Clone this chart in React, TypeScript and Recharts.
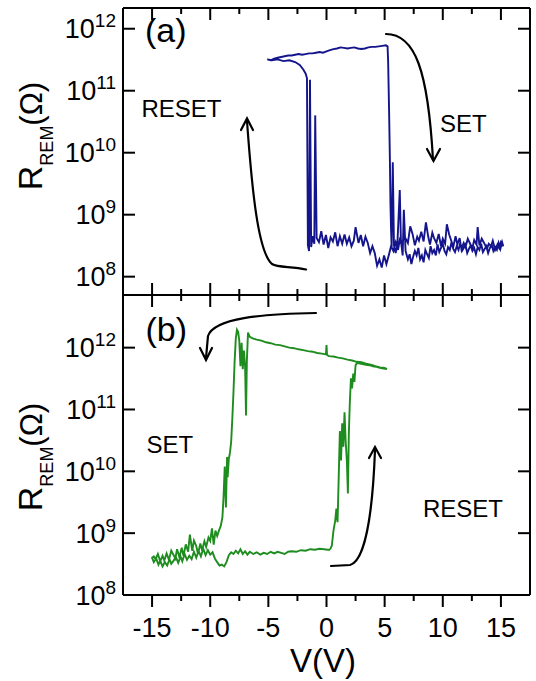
import { LineChart, Line, XAxis, YAxis } from "recharts";

const FONT = "'Liberation Sans', Arial, Helvetica, sans-serif";

// panel (a) sweep, [V, R] in sweep order
const A_HIGH: [number, number][] = [
  [-5.1, 3.2e11], [-4.8, 3.1e11], [-4.5, 3.3e11], [-4.2, 3.4e11], [-3.9, 3.5e11],
  [-3.6, 3.6e11], [-3.3, 3.7e11], [-3.0, 3.7e11], [-2.7, 3.8e11], [-2.4, 3.9e11],
  [-2.1, 3.8e11], [-1.8, 3.9e11], [-1.5, 4.0e11], [-1.2, 4.0e11], [-0.9, 4.1e11],
  [-0.6, 4.2e11], [-0.3, 4.1e11], [0, 4.3e11], [0.3, 4.5e11], [0.6, 4.7e11],
  [0.9, 4.8e11], [1.2, 5.0e11], [1.5, 4.9e11], [1.8, 4.8e11], [2.1, 4.9e11],
  [2.4, 5.0e11], [2.7, 4.8e11], [3.0, 4.7e11], [3.3, 4.8e11], [3.6, 5.0e11],
  [3.9, 5.1e11], [4.2, 5.1e11], [4.5, 5.2e11], [4.8, 5.3e11], [5.1, 5.4e11],
  [5.25, 5.2e11],
];

const A_SET: [number, number][] = [
  [5.3, 3e11], [5.38, 5e10], [5.45, 8e9], [5.5, 1.5e9], [5.55, 6e8], [5.6, 3e8],
  [5.7, 7e9], [5.8, 3.2e8], [5.95, 2.4e8], [6.1, 3.5e8], [6.3, 2.5e9], [6.4, 3.8e8],
  [6.55, 2.2e8], [6.65, 1.2e9], [6.8, 2.6e8], [7.0, 1.9e8], [7.15, 2.3e8], [7.3, 1.6e8],
  [7.45, 2.1e8], [7.6, 2.6e8], [7.75, 2.2e8], [7.9, 2.9e8], [8.05, 1.9e8], [8.2, 2.2e8],
  [8.35, 1.7e8], [8.5, 2.7e8], [8.65, 2.3e8], [8.8, 2.0e8], [8.95, 3.1e8], [9.1, 2.4e8],
  [9.25, 2.7e8], [9.4, 2.2e8], [9.55, 3.3e8], [9.7, 2.5e8], [9.85, 2.9e8], [10.0, 3.4e8],
  [10.15, 2.6e8], [10.3, 2.3e8], [10.45, 3.0e8], [10.6, 2.7e8], [10.75, 3.6e8], [10.9, 2.8e8],
  [11.05, 2.5e8], [11.2, 3.1e8], [11.35, 2.7e8], [11.5, 3.5e8], [11.65, 2.6e8], [11.8, 2.9e8],
  [11.95, 3.3e8], [12.1, 2.4e8], [12.25, 2.8e8], [12.4, 3.2e8], [12.55, 2.6e8], [12.7, 2.9e8],
  [12.85, 2.3e8], [13.0, 3.0e8], [13.15, 2.7e8], [13.3, 3.4e8], [13.45, 2.5e8], [13.6, 2.8e8],
  [13.75, 3.1e8], [13.9, 2.4e8], [14.05, 2.9e8], [14.2, 3.3e8], [14.35, 2.6e8], [14.5, 3.0e8],
  [14.65, 2.7e8], [14.8, 3.5e8], [14.95, 2.8e8], [15.1, 3.6e8], [15.2, 3.1e8],
];

const A_LOW: [number, number][] = [
  [15.0, 3.6e8], [14.85, 2.9e8], [14.7, 3.3e8], [14.5, 2.7e8], [14.3, 3.8e8], [14.15, 3.1e8],
  [13.95, 3.4e8], [13.8, 2.8e8], [13.55, 3.5e8], [13.35, 4.1e8], [13.15, 3.2e8], [13.0, 6.3e8],
  [12.9, 3.3e8], [12.7, 3.9e8], [12.55, 2.9e8], [12.35, 3.4e8], [12.15, 4.1e8], [11.95, 3.0e8],
  [11.8, 3.5e8], [11.6, 2.8e8], [11.45, 4.2e8], [11.25, 3.3e8], [11.1, 4.5e8], [10.9, 3.0e8],
  [10.75, 3.7e8], [10.55, 4.8e8], [10.35, 7.0e8], [10.2, 3.4e8], [10.0, 4.1e8], [9.85, 3.1e8],
  [9.65, 4.9e8], [9.45, 3.5e8], [9.25, 4.2e8], [9.1, 5.1e8], [8.9, 3.3e8], [8.75, 4.4e8],
  [8.55, 7.5e8], [8.35, 3.7e8], [8.15, 5.3e8], [7.95, 3.8e8], [7.8, 4.4e8], [7.6, 3.2e8],
  [7.4, 4.9e8], [7.2, 6.5e8], [7.0, 3.5e8], [6.85, 4.0e8], [6.65, 4.6e8], [6.5, 3.1e8],
  [6.3, 3.9e8], [6.15, 2.7e8], [5.95, 3.6e8], [5.75, 2.6e8], [5.55, 3.1e8], [5.35, 2.2e8],
  [5.15, 1.6e8], [4.95, 2.2e8], [4.75, 1.4e8], [4.55, 1.9e8], [4.35, 1.5e8], [4.15, 2.4e8],
  [3.95, 3.1e8], [3.75, 2.4e8], [3.55, 3.5e8], [3.35, 4.4e8], [3.15, 3.1e8], [2.95, 4.7e8],
  [2.75, 3.5e8], [2.5, 6.3e8], [2.35, 3.8e8], [2.15, 3.1e8], [1.95, 4.3e8], [1.75, 3.4e8],
  [1.55, 4.8e8], [1.35, 3.4e8], [1.15, 4.5e8], [0.95, 3.1e8], [0.75, 5.2e8], [0.55, 3.7e8],
  [0.35, 4.3e8], [0.15, 2.9e8], [-0.05, 4.7e8], [-0.25, 3.3e8], [-0.45, 5.4e8], [-0.65, 3.6e8],
  [-0.85, 4.2e8],
];

const A_RESET: [number, number][] = [
  [-0.97, 4.0e10], [-1.05, 3.4e8], [-1.2, 4.5e8], [-1.32, 3.0e8], [-1.42, 1.5e11],
  [-1.5, 2.6e8], [-1.6, 3.2e8], [-1.68, 1.6e11], [-1.8, 1.9e11], [-2.0, 2.2e11],
  [-2.3, 2.6e11], [-2.7, 2.9e11], [-3.2, 3.1e11], [-3.7, 3.0e11], [-4.2, 3.2e11],
  [-4.7, 3.1e11], [-5.1, 3.2e11],
];

// panel (b) sweep
const B_RESET: [number, number][] = [
  [0.3, 5.4e8], [0.46, 6.3e8], [0.6, 1.1e9], [0.75, 1.6e9], [0.85, 2.5e9], [0.95, 1.5e9],
  [1.05, 8e9], [1.15, 4.5e10], [1.25, 1.5e10], [1.35, 6e10], [1.45, 2.5e10], [1.55, 9e10],
  [1.65, 3e10], [1.75, 1.5e10], [1.84, 4.4e9], [1.92, 4e10], [2.0, 1.2e11], [2.1, 3.2e11],
  [2.2, 2.2e11], [2.3, 3.8e11], [2.4, 2.8e11], [2.5, 5.2e11], [2.6, 5.6e11],
  [2.8, 5.6e11], [3.1, 5.4e11], [3.4, 5.3e11], [3.7, 5.2e11], [4.0, 5.0e11], [4.3, 4.9e11],
  [4.6, 4.7e11], [4.9, 4.6e11], [5.2, 4.5e11],
];

const B_HIGH: [number, number][] = [
  [5.0, 4.7e11], [4.6, 4.8e11], [4.2, 5.0e11], [3.8, 5.3e11], [3.4, 5.5e11], [3.0, 5.8e11],
  [2.6, 5.9e11], [2.2, 6.2e11], [1.8, 6.4e11], [1.4, 6.7e11], [1.0, 6.9e11], [0.6, 7.2e11],
  [0.2, 7.3e11], [0.05, 7.6e11], [0.0, 1.1e12], [-0.05, 7.8e11], [-0.4, 8.0e11], [-0.8, 8.2e11],
  [-1.2, 8.6e11], [-1.6, 8.8e11], [-2.0, 9.1e11], [-2.4, 9.4e11], [-2.8, 9.8e11], [-3.2, 1.0e12],
  [-3.6, 1.05e12], [-4.0, 1.1e12], [-4.4, 1.12e12], [-4.8, 1.18e12], [-5.2, 1.22e12],
  [-5.6, 1.3e12], [-6.0, 1.35e12], [-6.3, 1.4e12], [-6.6, 1.5e12], [-6.75, 1.75e12],
];

const B_SET: [number, number][] = [
  [-6.85, 6e11], [-6.92, 8e10], [-7.0, 5e11], [-7.1, 9e11], [-7.2, 4.5e11], [-7.3, 1.2e12],
  [-7.4, 5e11], [-7.5, 1.3e12], [-7.6, 1.8e12], [-7.7, 1.95e12], [-7.8, 1.4e12], [-7.9, 6e11],
  [-8.0, 1.9e11], [-8.1, 7e10], [-8.2, 3e10], [-8.3, 2e10], [-8.4, 1.6e10], [-8.5, 8e9],
  [-8.55, 1.7e10], [-8.65, 2.6e9], [-8.75, 1.2e10], [-8.85, 4e9], [-8.95, 1.8e9], [-9.1, 1.3e9],
  [-9.25, 1.1e9], [-9.4, 9e8], [-9.55, 1.1e9], [-9.7, 6.5e8], [-9.85, 1.2e9], [-10.0, 7.5e8],
  [-10.15, 8.5e8], [-10.35, 6e8], [-10.5, 7.4e8], [-10.7, 5.3e8], [-10.85, 6.8e8], [-11.05, 4.6e8],
  [-11.2, 6.2e8], [-11.4, 7.6e8], [-11.55, 5.2e8], [-11.75, 9.5e8], [-11.9, 5.0e8], [-12.1, 6.6e8],
  [-12.3, 4.3e8], [-12.45, 5.8e8], [-12.65, 4.1e8], [-12.85, 5.5e8], [-13.0, 3.9e8], [-13.2, 4.6e8],
  [-13.35, 5.2e8], [-13.55, 3.7e8], [-13.75, 4.7e8], [-13.95, 3.6e8], [-14.1, 4.3e8], [-14.3, 3.5e8],
  [-14.5, 4.6e8], [-14.7, 3.8e8], [-14.85, 4.2e8], [-15.0, 4.0e8],
];

const B_LOW: [number, number][] = [
  [-14.85, 3.4e8], [-14.65, 3.9e8], [-14.45, 3.1e8], [-14.3, 3.6e8], [-14.1, 2.9e8], [-13.9, 3.4e8],
  [-13.7, 3.0e8], [-13.5, 3.8e8], [-13.35, 3.2e8], [-13.15, 3.6e8], [-12.95, 4.1e8], [-12.75, 3.3e8],
  [-12.55, 4.2e8], [-12.4, 3.5e8], [-12.2, 4.6e8], [-12.0, 3.7e8], [-11.8, 4.3e8], [-11.6, 3.8e8],
  [-11.4, 5.0e8], [-11.2, 4.0e8], [-11.0, 5.2e8], [-10.8, 4.2e8], [-10.6, 5.6e8], [-10.4, 4.4e8],
  [-10.2, 5.3e8], [-10.0, 4.5e8], [-9.8, 4.9e8], [-9.6, 3.9e8], [-9.4, 3.4e8], [-9.2, 3.0e8],
  [-9.0, 3.1e8], [-8.8, 2.9e8], [-8.6, 3.4e8], [-8.4, 4.4e8], [-8.2, 4.9e8], [-8.0, 4.6e8],
  [-7.8, 5.2e8], [-7.6, 4.7e8], [-7.4, 5.5e8], [-7.2, 4.6e8], [-7.0, 5.1e8], [-6.8, 4.5e8],
  [-6.6, 5.0e8], [-6.3, 4.6e8], [-6.0, 4.9e8], [-5.7, 4.5e8], [-5.4, 4.8e8], [-5.1, 4.6e8],
  [-4.8, 5.0e8], [-4.5, 4.7e8], [-4.2, 5.0e8], [-3.9, 4.8e8], [-3.6, 4.6e8], [-3.3, 5.0e8],
  [-3.0, 5.1e8], [-2.6, 5.0e8], [-2.2, 5.3e8], [-1.8, 5.2e8], [-1.4, 5.5e8], [-1.0, 5.4e8],
  [-0.6, 5.6e8], [-0.2, 5.5e8], [0.1, 5.4e8], [0.3, 5.4e8],
];

const X_TICKS = [-15, -12.5, -10, -7.5, -5, -2.5, 0, 2.5, 5, 7.5, 10, 12.5, 15];
const Y_TICKS = [1e8, 1e9, 1e10, 1e11, 1e12];
const X_DOMAIN = [-17.5, 17.5];
const Y_DOMAIN_A = [5.06e7, 2.16e12];
const Y_DOMAIN_B = [1e8, 7.1e12];

const toRows = (pts: [number, number][]) => pts.map(([v, r]) => ({ v, r }));
const dataA = toRows([...A_HIGH, ...A_SET, ...A_LOW, ...A_RESET]);
const dataB = toRows([...B_RESET, ...B_HIGH, ...B_SET, ...B_LOW]);

const xTick = (dir: number, labels: boolean) => (p: any) => {
  const { x, y, payload } = p;
  const v = payload.value;
  const major = v % 5 === 0;
  const len = major ? 12 : 6;
  return (
    <g>
      <line x1={x} x2={x} y1={y} y2={y + dir * len} stroke="#000" strokeWidth={2} />
      {labels && major ? (
        <text x={x} y={y + 41.5} textAnchor="middle" fontFamily={FONT} fontSize={27} fill="#000">
          {v}
        </text>
      ) : null}
    </g>
  );
};

const yTick = (dir: number, labels: boolean) => (p: any) => {
  const { x, y, payload } = p;
  const exp = Math.round(Math.log10(payload.value));
  return (
    <g>
      <line x1={x} x2={x + dir * 12} y1={y} y2={y} stroke="#000" strokeWidth={2} />
      {labels ? (
        <text x={x - 7} y={y + 9.5} textAnchor="end" fontFamily={FONT} fontSize={27} fill="#000">
          10
          <tspan dy={-11} fontSize={19}>{exp}</tspan>
        </text>
      ) : null}
    </g>
  );
};

const axisLine = { stroke: "#000", strokeWidth: 2 };

function Panel({ data, yDomain, color, bottomLabels, height, margin, bottomHeight }: any) {
  return (
    <LineChart width={536} height={height} data={data} margin={margin}>
      <XAxis
        type="number"
        dataKey="v"
        domain={X_DOMAIN}
        ticks={X_TICKS}
        interval={0}
        allowDataOverflow
        height={bottomHeight}
        tickSize={0}
        tickMargin={0}
        tickLine={false}
        axisLine={axisLine}
        tick={xTick(bottomLabels ? 1 : -1, bottomLabels)}
      />
      <XAxis
        xAxisId="top"
        orientation="top"
        type="number"
        dataKey="v"
        domain={X_DOMAIN}
        ticks={X_TICKS}
        interval={0}
        allowDataOverflow
        height={1}
        tickSize={0}
        tickMargin={0}
        tickLine={false}
        axisLine={axisLine}
        tick={xTick(1, false)}
      />
      <YAxis
        type="number"
        scale="log"
        dataKey="r"
        domain={yDomain}
        ticks={Y_TICKS}
        interval={0}
        allowDataOverflow
        width={123}
        tickSize={0}
        tickMargin={0}
        tickLine={false}
        axisLine={axisLine}
        tick={yTick(1, true)}
      />
      <YAxis
        yAxisId="right"
        orientation="right"
        type="number"
        scale="log"
        dataKey="r"
        domain={yDomain}
        ticks={Y_TICKS}
        interval={0}
        allowDataOverflow
        width={1}
        tickSize={0}
        tickMargin={0}
        tickLine={false}
        axisLine={axisLine}
        tick={yTick(-1, false)}
      />
      <Line
        type="linear"
        dataKey="r"
        stroke={color}
        strokeWidth={1.9}
        dot={false}
        isAnimationActive={false}
      />
    </LineChart>
  );
}

const txt = { fontFamily: FONT, fill: "#000" };
const arrow = { fill: "none", stroke: "#000", strokeWidth: 2.2, strokeLinecap: "round" as const };

function YTitle({ cy }: { cy: number }) {
  return (
    <text transform={`translate(41.5,${cy}) rotate(-90)`} textAnchor="middle" {...txt} fontSize={34}>
      R
      <tspan dy={11.5} fontSize={18}>REM</tspan>
      <tspan dy={-11.5} fontSize={31}>(Ω)</tspan>
    </text>
  );
}

export default function App() {
  return (
    <div style={{ position: "absolute", left: 0, top: 0, width: 536, height: 681, background: "#fff" }}>
      <div style={{ position: "absolute", left: 0, top: 0 }}>
        <Panel
          data={dataA}
          yDomain={Y_DOMAIN_A}
          color="#14148c"
          bottomLabels={false}
          height={300}
          bottomHeight={1}
          margin={{ top: 7, right: 5, bottom: 4, left: 0 }}
        />
      </div>
      <div style={{ position: "absolute", left: 0, top: 287 }}>
        <Panel
          data={dataB}
          yDomain={Y_DOMAIN_B}
          color="#1e8c1e"
          bottomLabels={true}
          height={394}
          bottomHeight={86}
          margin={{ top: 7, right: 5, bottom: 0, left: 0 }}
        />
      </div>
      <svg
        width={536}
        height={681}
        style={{ position: "absolute", left: 0, top: 0, pointerEvents: "none" }}
      >
        <YTitle cy={136} />
        <YTitle cy={457} />
        <text x={323} y={672} textAnchor="middle" {...txt} fontSize={33}>V(V)</text>

        <text x={145} y={41.5} {...txt} fontSize={34}>(a)</text>
        <text x={141.5} y={116.5} {...txt} fontSize={24}>RESET</text>
        <text x={440} y={132} {...txt} fontSize={24}>SET</text>
        <path d="M386,34 C415,34 428,70 433,160" {...arrow} />
        <path d="M427,149 L433.5,161 L440,149" {...arrow} />
        <path d="M306,269.5 C292,266 278,268 272,264 C258,252 252,190 247,121" {...arrow} />
        <path d="M241,130 L247,118.5 L253,130" {...arrow} />

        <text x={145.5} y={340.5} {...txt} fontSize={34}>(b)</text>
        <text x={146.5} y={453} {...txt} fontSize={24}>SET</text>
        <text x={423} y={517} {...txt} fontSize={24}>RESET</text>
        <path d="M316,313 C262,314 214,318 208,336 L206,358" {...arrow} />
        <path d="M200,348 L206,360 L212,348" {...arrow} />
        <path d="M331,566 L350,565 C362,562 372,530 375,450" {...arrow} />
        <path d="M369,458 L375,447 L381,458" {...arrow} />
      </svg>
    </div>
  );
}
